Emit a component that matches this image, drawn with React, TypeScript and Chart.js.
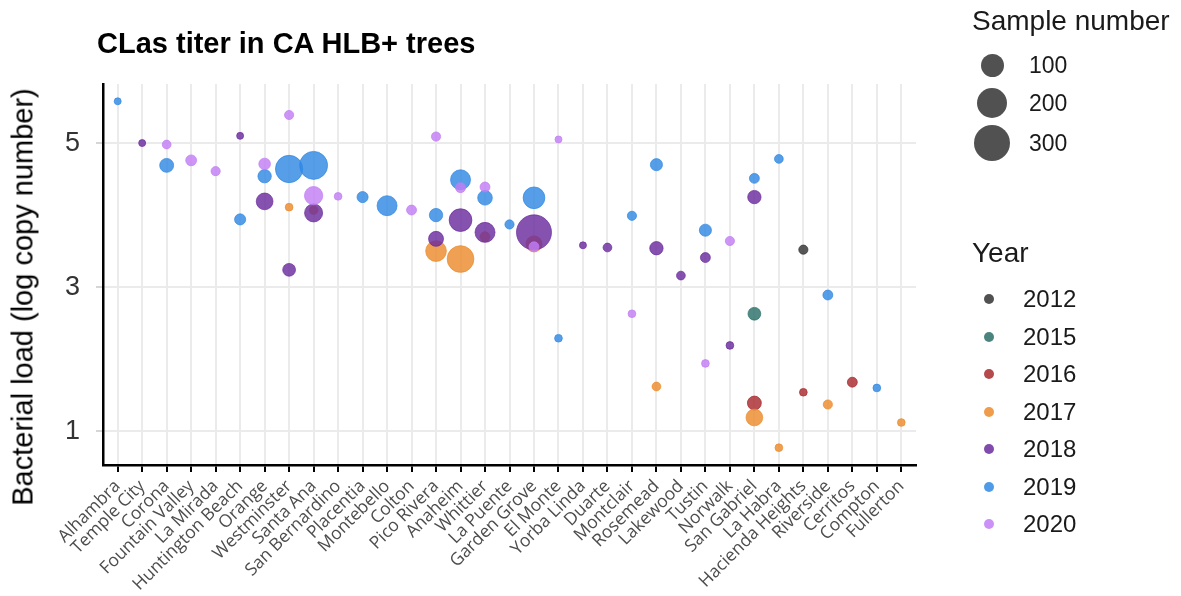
import React, { useEffect, useRef } from "react";
import { Chart, registerables } from "chart.js";

Chart.register(...registerables);

const cities = [
  "Alhambra", "Temple City", "Corona", "Fountain Valley", "La Mirada", "Huntington Beach",
  "Orange", "Westminster", "Santa Ana", "San Bernardino", "Placentia", "Montebello",
  "Colton", "Pico Rivera", "Anaheim", "Whittier", "La Puente", "Garden Grove",
  "El Monte", "Yorba Linda", "Duarte", "Montclair", "Rosemead", "Lakewood",
  "Tustin", "Norwalk", "San Gabriel", "La Habra", "Hacienda Heights", "Riverside",
  "Cerritos", "Compton", "Fullerton",
];

const yTicks = [1, 3, 5];
const years = ["2012", "2015", "2016", "2017", "2018", "2019", "2020"];
const sizeLegend = [100, 200, 300];

// [city, bacterial load (log copy number), sample number]
type Pt = [string, number, number];

const data2012: Pt[] = [["Hacienda Heights", 3.52, 5]];
const data2015: Pt[] = [["San Gabriel", 2.63, 18]];
const data2016: Pt[] = [
  ["San Gabriel", 1.39, 24],
  ["Hacienda Heights", 1.54, 2],
  ["Cerritos", 1.68, 7],
];
const data2017: Pt[] = [
  ["Westminster", 4.11, 2],
  ["Santa Ana", 4.07, 4],
  ["Pico Rivera", 3.5, 76],
  ["Anaheim", 3.39, 146],
  ["Whittier", 3.7, 7],
  ["Garden Grove", 3.6, 37],
  ["Rosemead", 1.62, 4],
  ["San Gabriel", 1.19, 42],
  ["La Habra", 0.77, 2],
  ["Riverside", 1.37, 5],
  ["Fullerton", 1.12, 2],
];
const data2018: Pt[] = [
  ["Temple City", 5.0, 1],
  ["Huntington Beach", 5.1, 1],
  ["Orange", 4.19, 42],
  ["Westminster", 3.24, 18],
  ["Santa Ana", 4.03, 52],
  ["Pico Rivera", 3.67, 30],
  ["Anaheim", 3.93, 97],
  ["Whittier", 3.76, 69],
  ["Garden Grove", 3.76, 280],
  ["Yorba Linda", 3.58, 1],
  ["Duarte", 3.55, 4],
  ["Rosemead", 3.54, 21],
  ["Lakewood", 3.16, 4],
  ["Tustin", 3.41, 7],
  ["Norwalk", 2.19, 2],
  ["San Gabriel", 4.25, 21],
];
const data2019: Pt[] = [
  ["Alhambra", 5.58, 1],
  ["Corona", 4.69, 24],
  ["Huntington Beach", 3.94, 11],
  ["Orange", 4.54, 21],
  ["Westminster", 4.64, 154],
  ["Santa Ana", 4.69, 164],
  ["Placentia", 4.25, 11],
  ["Montebello", 4.13, 69],
  ["Pico Rivera", 4.0, 21],
  ["Anaheim", 4.49, 69],
  ["Whittier", 4.24, 28],
  ["La Puente", 3.87, 5],
  ["Garden Grove", 4.24, 86],
  ["El Monte", 2.29, 2],
  ["Montclair", 3.99, 5],
  ["Rosemead", 4.7, 15],
  ["Tustin", 3.79, 15],
  ["San Gabriel", 4.51, 7],
  ["La Habra", 4.78, 4],
  ["Riverside", 2.89, 7],
  ["Compton", 1.6, 2],
];
const data2020: Pt[] = [
  ["Corona", 4.98, 4],
  ["Fountain Valley", 4.76, 10],
  ["La Mirada", 4.61, 5],
  ["Orange", 4.71, 13],
  ["Westminster", 5.39, 5],
  ["Santa Ana", 4.27, 54],
  ["San Bernardino", 4.26, 2],
  ["Colton", 4.07, 7],
  ["Pico Rivera", 5.09, 5],
  ["Anaheim", 4.38, 7],
  ["Whittier", 4.39, 7],
  ["Garden Grove", 3.56, 7],
  ["El Monte", 5.05, 1],
  ["Montclair", 2.63, 2],
  ["Tustin", 1.94, 2],
  ["Norwalk", 3.64, 5],
];

const seriesByYear = [data2012, data2015, data2016, data2017, data2018, data2019, data2020];
const yearColors = ["#333333", "#2B6F69", "#A82A2E", "#EC8B2C", "#6B2C9E", "#3189E3", "#C27EF4"];

const W = 1181;
const H = 596;
const PLOT_LEFT = 103;
const PLOT_RIGHT = 916;
const PLOT_TOP = 84;
const PLOT_BOTTOM = 465;

const diameterFor = (n: number) => 5.2 + 1.78 * Math.sqrt(n);
const radiusFor = (n: number) => diameterFor(n) / 2;

function hexA(hex: string, a: number) {
  const r = parseInt(hex.slice(1, 3), 16);
  const g = parseInt(hex.slice(3, 5), 16);
  const b = parseInt(hex.slice(5, 7), 16);
  return `rgba(${r},${g},${b},${a})`;
}

const FONT = "'Liberation Sans', Arial, Helvetica, sans-serif";

export default function App() {
  const ref = useRef<HTMLCanvasElement | null>(null);

  useEffect(() => {
    if (!ref.current) return;
    const datasets = seriesByYear.map((series, i) => ({
      label: years[i],
      order: seriesByYear.length - i,
      data: series.map(([city, load, n]) => ({ x: cities.indexOf(city), y: load, r: radiusFor(n) })),
      backgroundColor: hexA(yearColors[i], 0.82),
      borderColor: hexA(yearColors[i], 0.9),
      borderWidth: 0.8,
    }));
    const chart = new Chart(ref.current, {
      type: "bubble",
      data: { datasets },
      options: {
        responsive: false,
        animation: false,
        events: [],
        layout: { padding: { top: PLOT_TOP, right: W - PLOT_RIGHT, left: 0, bottom: 0 } },
        plugins: {
          legend: { display: false },
          tooltip: { enabled: false },
          title: { display: false },
        },
        scales: {
          x: {
            type: "linear",
            min: -0.6,
            max: cities.length - 0.4,
            afterBuildTicks: (s: any) => {
              s.ticks = cities.map((_, i) => ({ value: i }));
            },
            afterFit: (s: any) => {
              s.height = H - PLOT_BOTTOM;
            },
            ticks: {
              autoSkip: false,
              minRotation: 45,
              maxRotation: 45,
              padding: 4,
              color: "#4d4d4d",
              font: { family: "'Open Sans', sans-serif", size: 17.5 },
              callback: (v: any) => cities[Number(v)] ?? "",
            },
            grid: { color: "#ebebeb", lineWidth: 2, tickColor: "#000", tickLength: 7 },
            border: { display: true, color: "#000", width: 2.5 },
          },
          y: {
            type: "linear",
            min: 0.53,
            max: 5.82,
            afterBuildTicks: (s: any) => {
              s.ticks = yTicks.map((v) => ({ value: v }));
            },
            afterFit: (s: any) => {
              s.width = PLOT_LEFT;
            },
            ticks: {
              padding: 16,
              color: "#333333",
              font: { family: FONT, size: 27 },
              callback: (v: any) => String(v),
            },
            grid: { color: "#ebebeb", lineWidth: 2, tickColor: "#d6d6d6", tickLength: 7 },
            border: { display: true, color: "#000", width: 2.5 },
          },
        },
      },
    } as any);
    return () => chart.destroy();
  }, []);

  const abs = (extra: React.CSSProperties): React.CSSProperties => ({
    position: "absolute",
    whiteSpace: "nowrap",
    fontFamily: FONT,
    color: "#1a1a1a",
    ...extra,
  });

  const sizeCenters = [65.7, 103.3, 143.3];
  const yearY0 = 299.3;
  const yearStep = 37.45;

  return (
    <div style={{ position: "absolute", left: 0, top: 0, width: W, height: H, background: "#fff", overflow: "hidden" }}>
      <canvas ref={ref} width={W} height={H} style={{ position: "absolute", left: 0, top: 0, width: W, height: H }} />

      {/* Title */}
      <div style={abs({ left: 97, top: 54 - 0.8465 * 29, fontSize: 29, lineHeight: "29px", fontWeight: 700, color: "#000" })}>
        CLas titer in CA HLB+ trees
      </div>

      {/* Y-axis title */}
      <div
        style={abs({
          left: 23,
          top: 297,
          fontSize: 29,
          lineHeight: "29px",
          transform: "translate(-50%, -50%) rotate(-90deg)",
          color: "#000",
        })}
      >
        Bacterial load (log copy number)
      </div>

      {/* Size legend */}
      <div style={abs({ left: 972, top: 31 - 0.8465 * 28, fontSize: 28, lineHeight: "28px" })}>Sample number</div>
      {sizeLegend.map((n, i) => {
        const d = diameterFor(n);
        return (
          <React.Fragment key={n}>
            <div
              style={{
                position: "absolute",
                left: 992 - d / 2,
                top: sizeCenters[i] - d / 2,
                width: d,
                height: d,
                borderRadius: "50%",
                background: "rgba(51,51,51,0.85)",
              }}
            />
            <div style={abs({ left: 1029, top: sizeCenters[i] - 11.5, fontSize: 23, lineHeight: "23px" })}>{n}</div>
          </React.Fragment>
        );
      })}

      {/* Year legend */}
      <div style={abs({ left: 972, top: 263 - 0.8465 * 28, fontSize: 28, lineHeight: "28px" })}>Year</div>
      {years.map((y, i) => {
        const cy = yearY0 + yearStep * i;
        const d = 10;
        return (
          <React.Fragment key={y}>
            <div
              style={{
                position: "absolute",
                left: 989 - d / 2,
                top: cy - d / 2,
                width: d,
                height: d,
                borderRadius: "50%",
                background: hexA(yearColors[i], 0.85),
              }}
            />
            <div style={abs({ left: 1023, top: cy - 12, fontSize: 24, lineHeight: "24px" })}>{y}</div>
          </React.Fragment>
        );
      })}
    </div>
  );
}
